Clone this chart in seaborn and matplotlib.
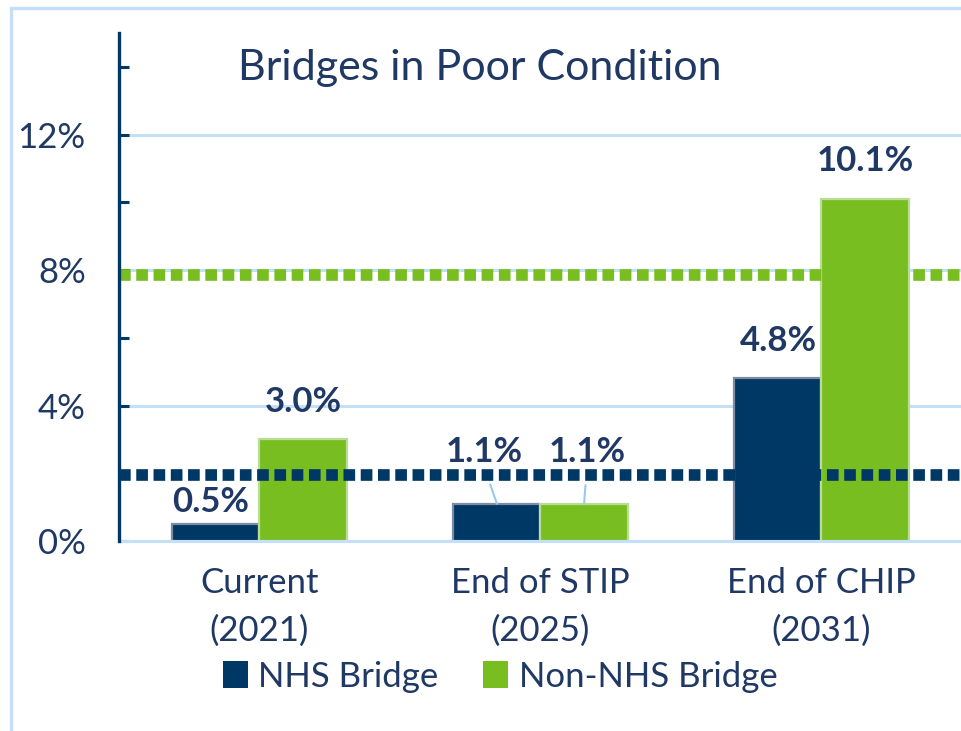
import numpy as np
import pandas as pd
import matplotlib
matplotlib.use("Agg")
import matplotlib.pyplot as plt
from matplotlib.patches import Patch
from matplotlib.lines import Line2D
import seaborn as sns

# ---- data ----
categories = ["Current\n(2021)", "End of STIP\n(2025)", "End of CHIP\n(2031)"]
series = ["NHS Bridge", "Non-NHS Bridge"]
nhs_values = [0.5, 1.1, 4.8]
non_nhs_values = [3.0, 1.1, 10.1]
nhs_target = 1.95
non_nhs_target = 7.85
y_ticks = [0, 4, 8, 12]
y_tick_labels = ["0%", "4%", "8%", "12%"]
y_minor_ticks = [2, 6, 10, 14]
title = "Bridges in Poor Condition"

# ---- style ----
NAVY = "#003865"
GREEN = "#78BE21"
NAVY_EDGE = "#7D8CA3"
GREEN_EDGE = "#B9DC98"
GRID = "#C3E0F8"
LEADER = "#9CC8F0"
TEXT = "#1F3864"
FS = 25

sns.set_theme(style="white")
plt.rcParams['font.family'] = ['Lato', 'DejaVu Sans']

df = pd.DataFrame({
    "category": categories * 2,
    "series": [series[0]] * len(categories) + [series[1]] * len(categories),
    "value": nhs_values + non_nhs_values,
})

fig = plt.figure(figsize=(9.62, 7.31), dpi=100)
ax = fig.add_axes([119 / 962, (731 - 541) / 731, (962 - 119) / 962, 508 / 731])

sns.barplot(data=df, x="category", y="value", hue="series", hue_order=series,
            order=categories, palette=[NAVY, GREEN], width=0.62, saturation=1,
            errorbar=None, ax=ax, legend=False, zorder=2)

for cont, ec in zip(ax.containers, [NAVY_EDGE, GREEN_EDGE]):
    for p in cont:
        p.set_edgecolor(ec)
        p.set_linewidth(1.6)

ax.set_xlim(-0.5, 2.5)
ax.set_ylim(0, 15)
ax.set_xlabel("")
ax.set_ylabel("")

ax.set_yticks(y_ticks, y_tick_labels)
ax.set_yticks(y_minor_ticks, minor=True)
ax.tick_params(axis='y', which='both', direction='in', length=7, width=2.2,
               color=NAVY, pad=24, labelsize=FS, labelcolor=TEXT, left=True)
ax.tick_params(axis='x', length=0, pad=18.5, labelsize=FS, labelcolor=TEXT)
for t in ax.get_xticklabels():
    t.set_linespacing(1.62)

ax.yaxis.grid(True, which='major', color=GRID, lw=2.2)
ax.set_axisbelow(True)
for s in ["top", "right"]:
    ax.spines[s].set_visible(False)
ax.spines["left"].set_color(NAVY)
ax.spines["left"].set_linewidth(2.4)
ax.spines["left"].set_zorder(5)
ax.spines["bottom"].set_color(GRID)
ax.spines["bottom"].set_linewidth(2.2)

# target dotted lines
ax.axhline(non_nhs_target, color=GREEN, lw=8.4, linestyle=(0, (1, 0.48)),
           dash_capstyle='butt', zorder=3)
ax.axhline(nhs_target, color=NAVY, lw=8.4, linestyle=(0, (1, 0.48)),
           dash_capstyle='butt', zorder=3)

# data labels (offsets in points: dx, dy of baseline above bar top)
offsets = {
    (0, 0): (-4, 9), (1, 0): (-9, 30), (2, 0): (0, 20),
    (0, 1): (0, 20), (1, 1): (2, 30), (2, 1): (0, 20),
}
for si, cont in enumerate(ax.containers):
    for ci, p in enumerate(cont):
        v = p.get_height()
        xc = p.get_x() + p.get_width() / 2
        dx, dy = offsets[(ci, si)]
        kw = {}
        if ci == 1:
            kw["arrowprops"] = dict(arrowstyle='-', color=LEADER, lw=1.5,
                                    shrinkA=10, shrinkB=0, relpos=(0.5, 0))
        ax.annotate(f"{v:.1f}%", xy=(xc, v), xytext=(dx, dy),
                    textcoords='offset points', ha='center', va='baseline',
                    fontsize=FS, fontweight='bold', color=TEXT, zorder=6, **kw)

# title
fig.text(480 / 962, 1 - 80 / 731, title, ha='center', va='baseline',
         fontsize=31, color=TEXT)

# legend
handles = [Patch(facecolor=NAVY, edgecolor='none'), Patch(facecolor=GREEN, edgecolor='none')]
fig.legend(handles, series, loc='center', bbox_to_anchor=(500 / 962, 1 - 677 / 731),
           ncol=2, frameon=False, fontsize=FS, handlelength=0.72, handleheight=0.82,
           handletextpad=0.3, columnspacing=1.3, labelcolor=TEXT)

# frame border (left & top visible)
fig.add_artist(Line2D([10.5 / 962, 10.5 / 962], [0, 1 - 8 / 731], color=GRID, lw=2.4,
                      transform=fig.transFigure))
fig.add_artist(Line2D([10.5 / 962, 1], [1 - 8 / 731, 1 - 8 / 731], color=GRID, lw=2.4,
                      transform=fig.transFigure))

fig.savefig("out.png", dpi=100)
